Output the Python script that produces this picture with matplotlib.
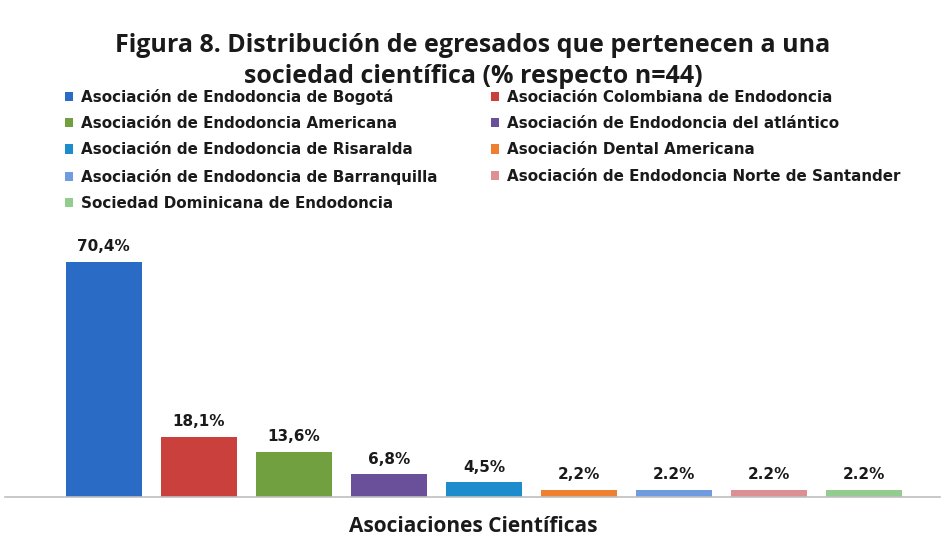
import matplotlib
matplotlib.use("Agg")
import matplotlib.pyplot as plt
from matplotlib.patches import Patch

categories = [
    "Asociación de Endodoncia de Bogotá",
    "Asociación Colombiana de Endodoncia",
    "Asociación de Endodoncia Americana",
    "Asociación de Endodoncia del atlántico",
    "Asociación de Endodoncia de Risaralda",
    "Asociación Dental Americana",
    "Asociación de Endodoncia de Barranquilla",
    "Asociación de Endodoncia Norte de Santander",
    "Sociedad Dominicana de Endodoncia",
]
values = [70.4, 18.1, 13.6, 6.8, 4.5, 2.2, 2.2, 2.2, 2.2]
labels = ["70,4%", "18,1%", "13,6%", "6,8%", "4,5%", "2,2%", "2.2%", "2.2%", "2.2%"]
colors = ["#2a6bc6", "#c9403d", "#71a040", "#6a4f9a", "#1c8ccc",
          "#ee8030", "#6f9be0", "#dd8f93", "#92cc8e"]

fig = plt.figure(figsize=(9.46, 5.4), dpi=100)
ax = fig.add_axes([5/946, 43/540, 935/946, 250/540])

x = list(range(len(values)))
ax.bar(x, values, width=0.8, color=colors)
for xi, v, lab in zip(x, values, labels):
    ax.text(xi, v + 2.2, lab, ha="center", va="bottom", fontsize=11,
            fontweight="bold", family="DejaVu Sans", color="#1a1a1a")

ax.set_xlim(-1.04, 8.8)
ax.set_ylim(0, 74.8)
for s in ["top", "right", "left"]:
    ax.spines[s].set_visible(False)
ax.spines["bottom"].set_color("#bfbfbf")
ax.spines["bottom"].set_linewidth(1.2)
ax.set_xticks([])
ax.set_yticks([])

fig.text(0.5, 1 - 61/540, "Figura 8. Distribución de egresados que pertenecen a una\nsociedad científica (% respecto n=44)",
         ha="center", va="center", fontsize=18, fontweight="bold",
         family="Open Sans", color="#1a1a1a", linespacing=1.3)

fig.text(0.5, 1 - 527/540, "Asociaciones Científicas", ha="center", va="center",
         fontsize=15, fontweight="bold", family="Open Sans", color="#1a1a1a")

handles = [Patch(facecolor=c, edgecolor="none") for c in colors]
order = [0, 2, 4, 6, 8, 1, 3, 5, 7]
leg = fig.legend([handles[i] for i in order], [categories[i] for i in order],
                 loc="upper left", bbox_to_anchor=(51/946, 1 - 75/540), ncol=2,
                 frameon=False, prop={"family": "DejaVu Sans", "weight": "bold", "size": 10.9},
                 handlelength=0.55, handleheight=0.55, handletextpad=0.55,
                 columnspacing=3.5, labelspacing=0.75)
for t in leg.get_texts():
    t.set_color("#1a1a1a")

fig.savefig("out.png", dpi=100, facecolor="white")
